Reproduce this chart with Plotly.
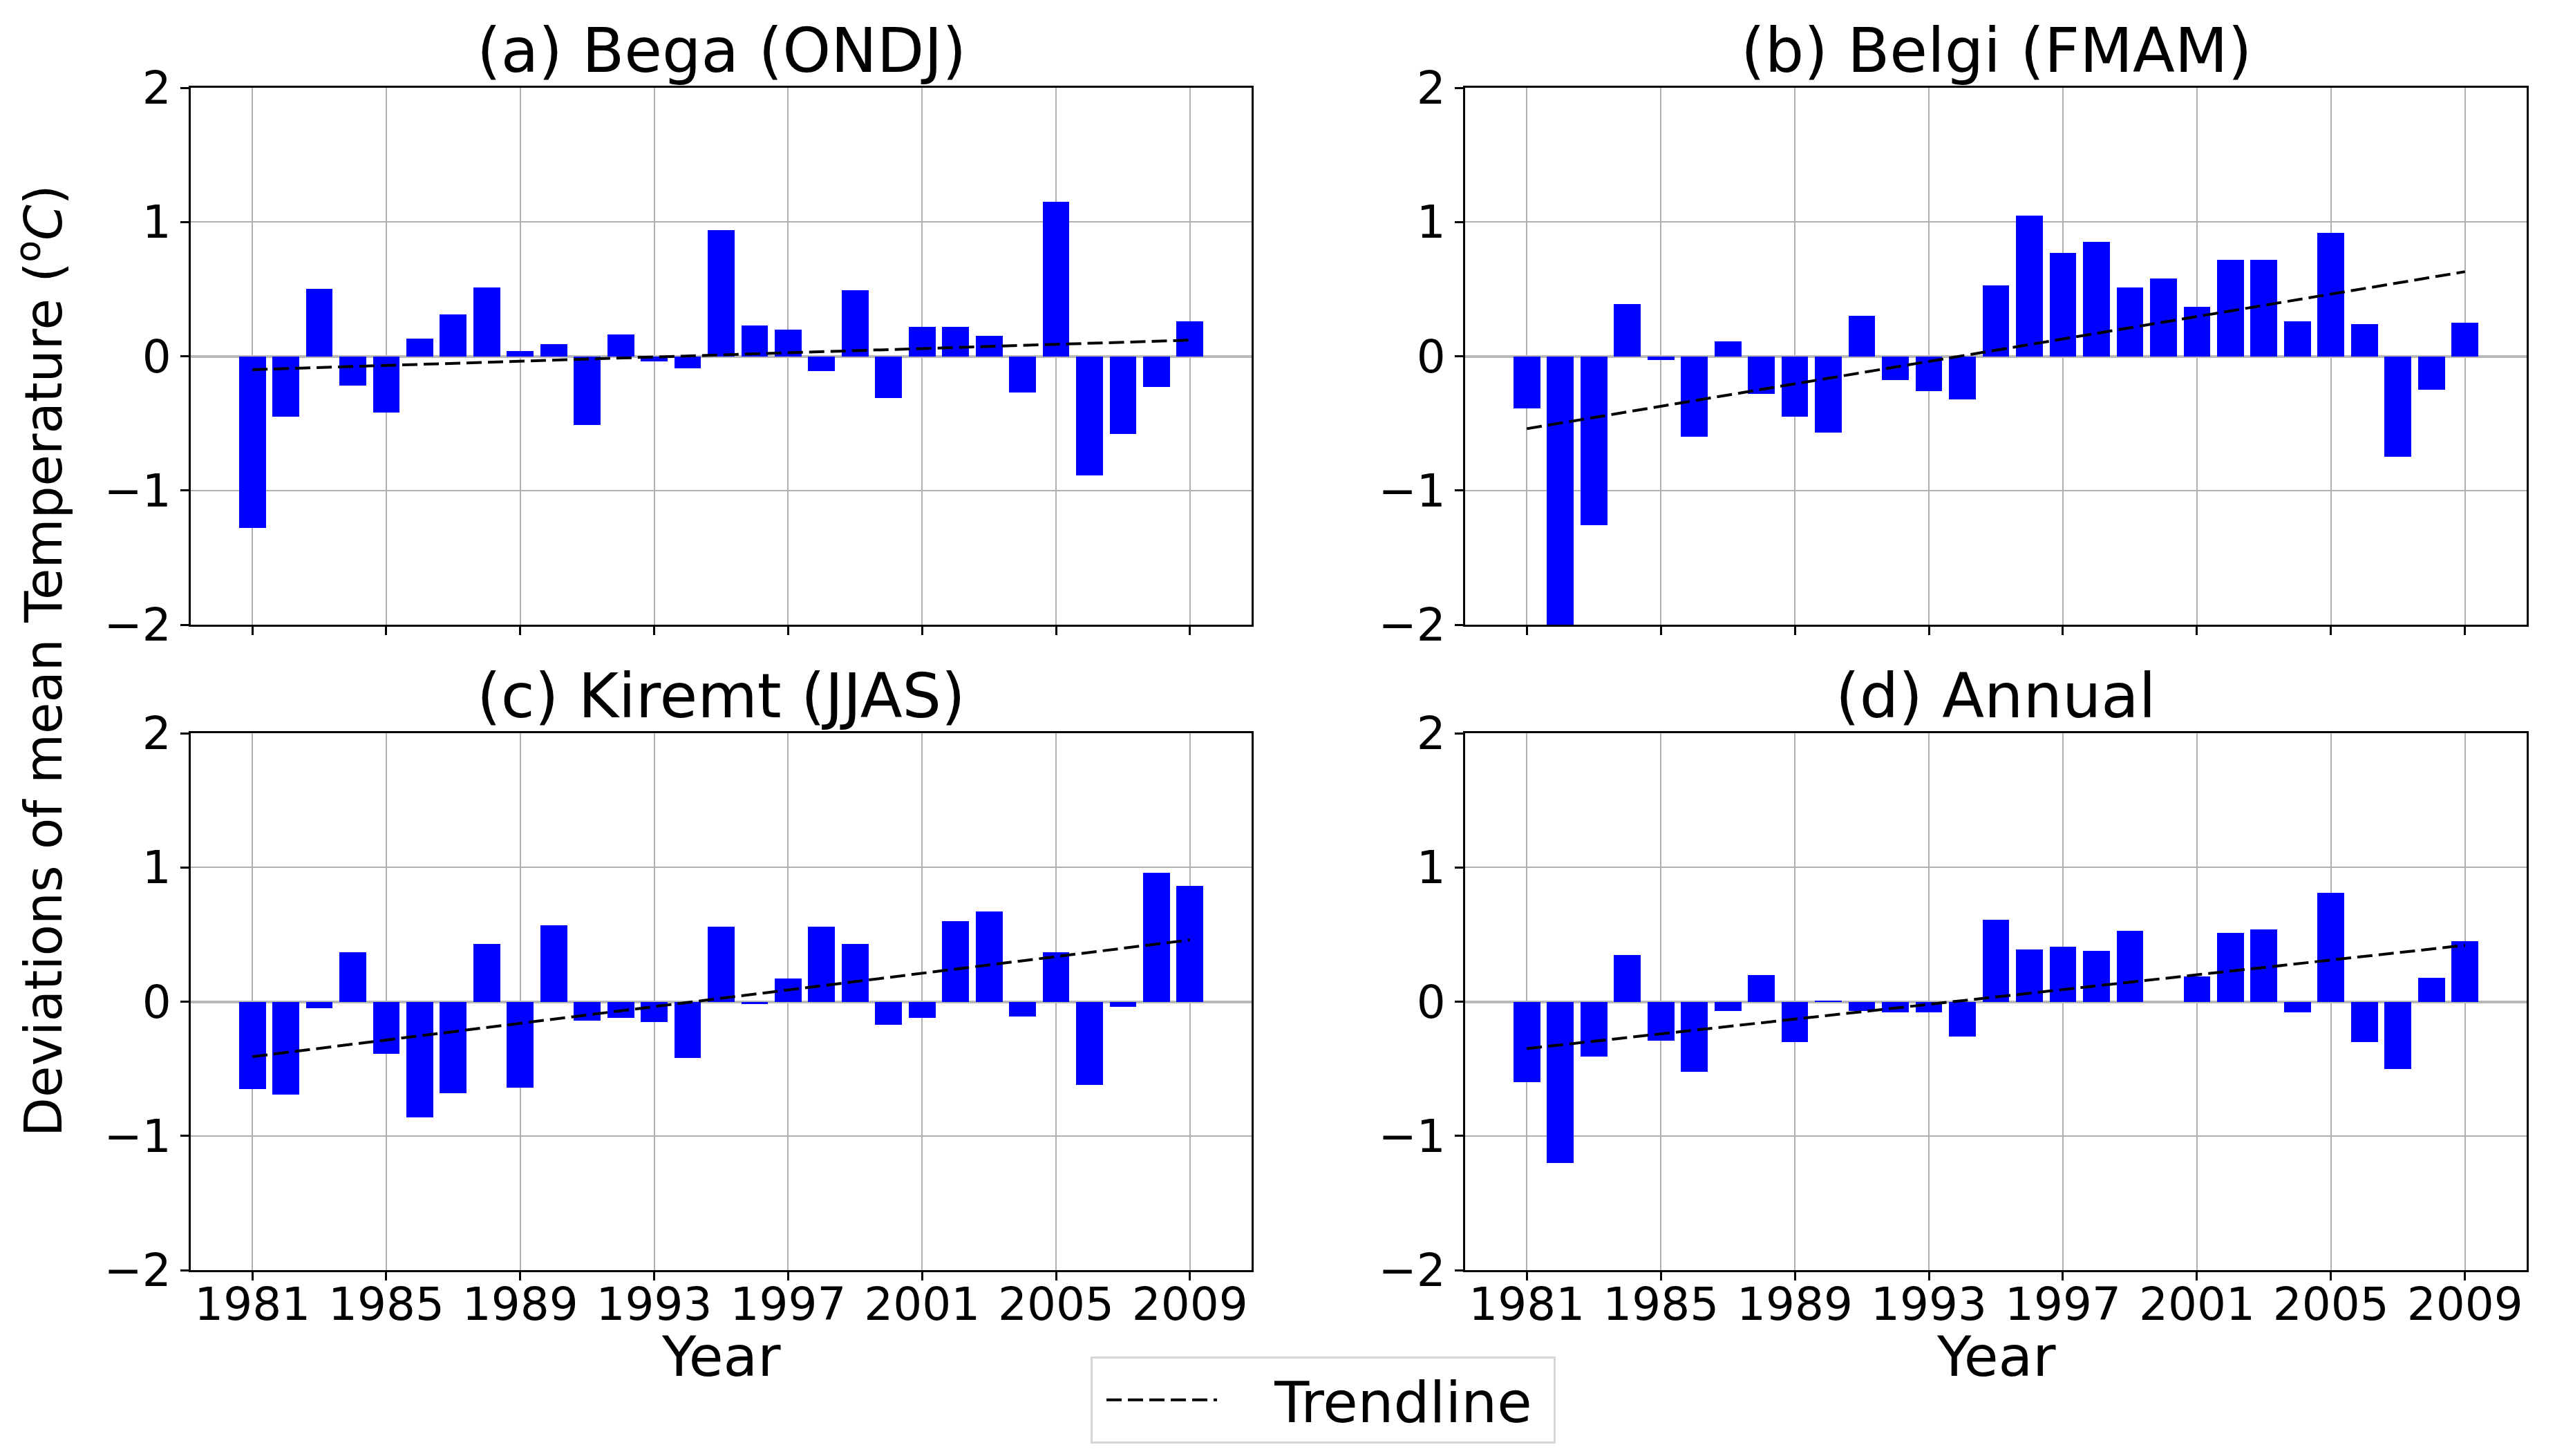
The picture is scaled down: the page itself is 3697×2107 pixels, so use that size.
import plotly.graph_objects as go

years = list(range(1981, 2010))

bega = [-1.28, -0.45, 0.50, -0.22, -0.42, 0.13, 0.31, 0.51, 0.04, 0.09,
        -0.51, 0.16, -0.04, -0.09, 0.94, 0.23, 0.20, -0.11, 0.49, -0.31,
        0.22, 0.22, 0.15, -0.27, 1.15, -0.89, -0.58, -0.23, 0.26]
belgi = [-0.39, -2.10, -1.26, 0.39, -0.03, -0.60, 0.11, -0.28, -0.45, -0.57,
         0.30, -0.18, -0.26, -0.32, 0.53, 1.05, 0.77, 0.85, 0.51, 0.58,
         0.37, 0.72, 0.72, 0.26, 0.92, 0.24, -0.75, -0.25, 0.25]
kiremt = [-0.65, -0.69, -0.05, 0.37, -0.39, -0.86, -0.68, 0.43, -0.64, 0.57,
          -0.14, -0.12, -0.15, -0.42, 0.56, -0.02, 0.17, 0.56, 0.43, -0.17,
          -0.12, 0.60, 0.67, -0.11, 0.37, -0.62, -0.04, 0.96, 0.86]
annual = [-0.60, -1.20, -0.41, 0.35, -0.29, -0.52, -0.07, 0.20, -0.30, 0.01,
          -0.07, -0.08, -0.08, -0.26, 0.61, 0.39, 0.41, 0.38, 0.53, 0.00,
          0.19, 0.51, 0.54, -0.08, 0.81, -0.30, -0.50, 0.18, 0.45]

trend_years = [1981, 2009]
trend_bega = [-0.10, 0.12]
trend_belgi = [-0.54, 0.63]
trend_kiremt = [-0.41, 0.46]
trend_annual = [-0.35, 0.42]

titles = ["(a) Bega (ONDJ)", "(b) Belgi (FMAM)", "(c) Kiremt (JJAS)", "(d) Annual"]
series = [bega, belgi, kiremt, annual]
trends = [trend_bega, trend_belgi, trend_kiremt, trend_annual]

xticks = [1981, 1985, 1989, 1993, 1997, 2001, 2005, 2009]
yticks = [-2, -1, 0, 1, 2]
ytick_text = ["\u22122", "\u22121", "0", "1", "2"]

W, H = 3697, 2107
FONT = "DejaVu Sans"

xdom = [[268 / W, 1803 / W], [2112 / W, 3648 / W]]
ydom = [[1 - 896 / H, 1 - 119 / H], [1 - 1830 / H, 1 - 1053 / H]]

fig = go.Figure()
annotations = []
for i in range(4):
    r, c = divmod(i, 2)
    ax = "" if i == 0 else str(i + 1)
    fig.add_trace(go.Bar(x=years, y=series[i], width=0.8,
                         marker=dict(color="#0000ff", line=dict(width=0)),
                         showlegend=False, xaxis="x" + ax, yaxis="y" + ax))
    fig.add_trace(go.Scatter(x=trend_years, y=trends[i], mode="lines",
                             line=dict(color="black", width=4, dash="22px,9px"),
                             name="\u00a0\u00a0\u00a0Trendline\u00a0",
                             showlegend=(i == 0),
                             xaxis="x" + ax, yaxis="y" + ax))
    common = dict(showline=True, linecolor="black", linewidth=3, mirror=True,
                  showgrid=True, gridcolor="#b0b0b0", gridwidth=2,
                  ticks="outside", ticklen=12, tickwidth=3, tickcolor="black",
                  zeroline=True, zerolinecolor="#b8b8b8", zerolinewidth=4,
                  automargin=False,
                  tickfont=dict(family=FONT, size=66, color="black"))
    xa = dict(common, domain=xdom[c], range=[1979.16, 2010.84],
              tickvals=xticks, ticktext=[str(t) for t in xticks],
              showticklabels=(r == 1), ticklabelstandoff=-22, anchor="y" + ax)
    ya = dict(common, domain=ydom[r], range=[-2, 2], tickvals=yticks,
              ticktext=ytick_text, anchor="x" + ax)
    fig.layout["xaxis" + ax] = xa
    fig.layout["yaxis" + ax] = ya
    cx = (xdom[c][0] + xdom[c][1]) / 2
    annotations.append(dict(text=titles[i], xref="paper", yref="paper",
                            x=cx, y=ydom[r][1],
                            xanchor="center", yanchor="bottom", yshift=0,
                            showarrow=False,
                            font=dict(family=FONT, size=89, color="black")))
    if r == 1:
        annotations.append(dict(text="Year", xref="paper", yref="paper",
                                x=cx, y=1 - 1955 / H,
                                xanchor="center", yanchor="middle",
                                showarrow=False,
                                font=dict(family=FONT, size=81, color="black")))

annotations.append(dict(text="Deviations of mean Temperature (<sup>o</sup><i>C</i>)",
                        xref="paper", yref="paper", x=50 / W, y=1 - 948 / H,
                        xanchor="center", yanchor="middle", textangle=-90,
                        showarrow=False,
                        font=dict(family=FONT, size=74, color="black")))

fig.update_layout(
    width=W, height=H, autosize=False,
    margin=dict(l=0, r=0, t=0, b=0, pad=0, autoexpand=False),
    paper_bgcolor="white", plot_bgcolor="white",
    annotations=annotations,
    showlegend=True,
    legend=dict(x=1570 / W, y=1 - 1955 / H, xanchor="left", yanchor="top",
                bgcolor="white", bordercolor="#d6d6d6", borderwidth=3,
                itemwidth=160, indentation=15,
                font=dict(family=FONT, size=82, color="black")),
    bargap=0,
)

fig.write_html("out.html")
